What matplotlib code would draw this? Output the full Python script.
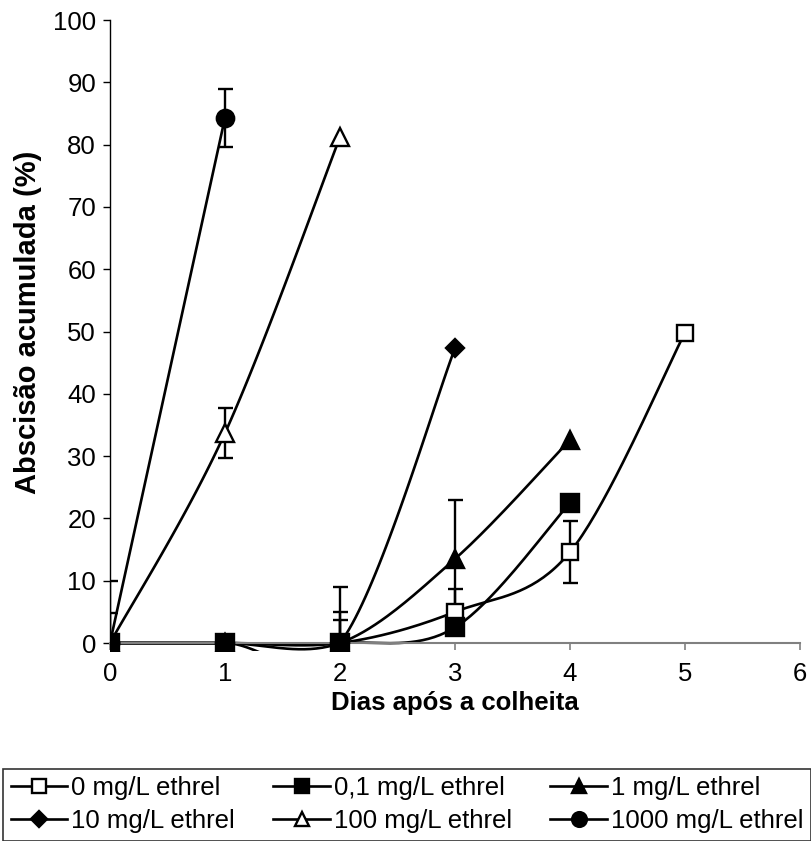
import numpy as np
import matplotlib
matplotlib.use("Agg")
import matplotlib.pyplot as plt

plt.rcParams["font.family"] = ["Liberation Sans", "DejaVu Sans"]

days = [0, 1, 2, 3, 4, 5]
labels = ["0 mg/L ethrel", "0,1 mg/L ethrel", "1 mg/L ethrel",
          "10 mg/L ethrel", "100 mg/L ethrel", "1000 mg/L ethrel"]

# mean cumulative abscission (%) per day
y_0 = [0, 0, 0, 5.0, 14.6, 49.8]
y_01 = [0, 0, 0, 2.5, 22.5]
y_1 = [0, 0, 0, 13.5, 32.6]
y_10 = [0, 0, 0, 47.3]
y_100 = [0, 33.7, 81.2]
y_1000 = [0, 84.3]

# error bars (0 = none drawn)
e_0 = [4.8, 0, 5.0, 3.7, 5.0, 0]
e_01 = [10.0, 0, 3.7, 0, 0]
e_1 = [0, 0, 9.0, 9.5, 0]
e_10 = [0, 0, 0, 0]
e_100 = [0, 4.0, 0]
e_1000 = [0, 4.7]

# marker, face colour, size, z-order of markers
series = [
    (y_0, e_0, "s", "white", 12, 5),
    (y_01, e_01, "s", "black", 12.5, 10),
    (y_1, e_1, "^", "black", 12.5, 6),
    (y_10, e_10, "D", "black", 9.5, 7),
    (y_100, e_100, "^", "white", 12.5, 8),
    (y_1000, e_1000, "o", "black", 12.5, 9),
]

SX, SY = 115.0, 6.23  # pixels per day / per percent, so smoothing looks like the original


def smooth(x, y, n=40):
    # Excel-style smoothed line: Catmull-Rom type bezier between points
    P = np.column_stack([np.asarray(x, float) * SX, np.asarray(y, float) * SY])
    out = [P[:1]]
    t = np.linspace(0, 1, n)[1:, None]
    for i in range(len(P) - 1):
        p0 = P[i - 1] if i > 0 else P[i]
        p3 = P[i + 2] if i + 2 < len(P) else P[i + 1]
        c1 = P[i] + (P[i + 1] - p0) / 6
        c2 = P[i + 1] - (p3 - P[i]) / 6
        seg = ((1 - t) ** 3 * P[i] + 3 * (1 - t) ** 2 * t * c1
               + 3 * (1 - t) * t ** 2 * c2 + t ** 3 * P[i + 1])
        out.append(seg)
    pts = np.vstack(out)
    return pts[:, 0] / SX, pts[:, 1] / SY


fig = plt.figure(figsize=(8.11, 8.41), dpi=100)
ax = fig.add_axes([0.1356, 0.2265, 0.8508, 0.7497])

handles = []
for (vals, errs, mk, fc, ms, zo), lab in zip(series, labels):
    x = days[:len(vals)]
    sx, sy = smooth(x, vals)
    ax.plot(sx, sy, color="black", lw=1.9, zorder=2)
    ex = [d for d, e in zip(x, errs) if e > 0]
    ev = [v for v, e in zip(vals, errs) if e > 0]
    ee = [e for e in errs if e > 0]
    if ex:
        ax.errorbar(ex, ev, yerr=ee, fmt="none", ecolor="black", elinewidth=1.7,
                    capsize=5.4, capthick=1.7, zorder=3)
    ax.plot(x, vals, linestyle="none", marker=mk, markersize=ms,
            markerfacecolor=fc, markeredgecolor="black", markeredgewidth=1.7, zorder=zo)
    h, = ax.plot([], [], color="black", lw=1.9, marker=mk, markersize=ms,
                 markerfacecolor=fc, markeredgecolor="black", markeredgewidth=1.7, label=lab)
    handles.append(h)

ax.set_xlim(0, 6)
ax.set_ylim(-1.2, 100)
ax.set_xticks(range(0, 7))
ax.set_yticks(range(0, 101, 10))
ax.spines["top"].set_visible(False)
ax.spines["right"].set_visible(False)
ax.spines["bottom"].set_position(("data", 0))
ax.spines["bottom"].set_color("#808080")
ax.spines["bottom"].set_linewidth(1.5)
ax.spines["left"].set_bounds(0, 100)
ax.spines["left"].set_linewidth(1.0)
ax.tick_params(axis="x", direction="out", length=5, color="#808080", width=1.2,
               labelsize=18.5, pad=9)
ax.tick_params(axis="y", direction="out", length=5, width=1.0, labelsize=18.5, pad=5)
ax.set_xlabel("Dias após a colheita", fontsize=18.5, fontweight="bold", labelpad=3)
ax.set_ylabel("Abscisão acumulada (%)", fontsize=21, fontweight="bold")
ax.yaxis.set_label_coords(-0.098, 0.52)

order = [0, 3, 1, 4, 2, 5]
leg = fig.legend([handles[i] for i in order], [labels[i] for i in order],
                 ncol=3, loc="lower left", bbox_to_anchor=(3 / 811, 0.0),
                 fontsize=18.5, frameon=True, fancybox=False, edgecolor="black",
                 handlelength=2.2, handletextpad=0.15, borderaxespad=0.0,
                 columnspacing=1.5, labelspacing=0.35, borderpad=0.3, markerscale=0.85)
leg.get_frame().set_linewidth(1.2)

fig.savefig("out.png", dpi=100)
